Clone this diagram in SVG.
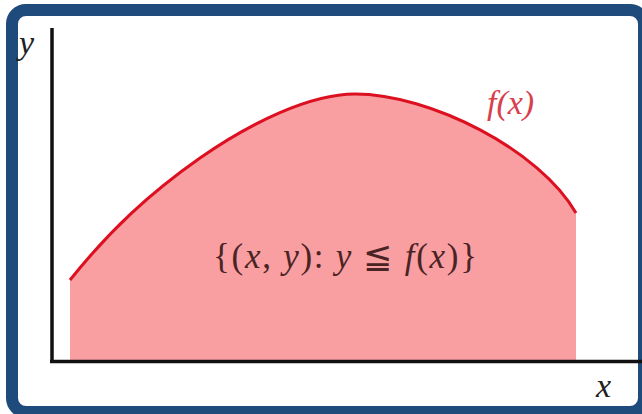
<svg xmlns="http://www.w3.org/2000/svg" width="642" height="414" viewBox="0 0 642 414">
<style>
.it{font-style:italic}
.axis{stroke:#111;stroke-width:3.5;fill:none}
</style>
<rect x="0" y="0" width="642" height="414" fill="#ffffff"/>
<rect x="12" y="10" width="632" height="402" rx="14" ry="14" fill="none" stroke="#1f4a7c" stroke-width="12"/>
<g id="region">
<path d="M70,280 C110,230 150,193 200,158 C250,123 310,94 355,94 C430,94 540,150 576,213 L576,360 L70,360 Z" fill="#f99ea1"/>
</g>
<g id="curve">
<path d="M70,280 C110,230 150,193 200,158 C250,123 310,94 355,94 C430,94 540,150 576,213" fill="none" stroke="#dc1020" stroke-width="3"/>
</g>
<g id="connectors">
<line class="axis" x1="52" y1="28" x2="52" y2="362"/>
<line class="axis" x1="50" y1="361.5" x2="642" y2="361.5"/>
</g>
<g id="labels" font-family="Liberation Serif, DejaVu Serif, serif">
<text class="it" x="19" y="54" font-size="34" fill="#222">y</text>
<text class="it" x="596" y="397" font-size="34" fill="#222">x</text>
<text class="it" x="487" y="114" font-size="34" fill="#d8404c">f(x)</text>
<text x="213" y="268" font-size="35" fill="#4a2424" textLength="264" lengthAdjust="spacing">{(<tspan class="it">x</tspan>, <tspan class="it">y</tspan>): <tspan class="it">y</tspan> ≦ <tspan class="it">f</tspan>(<tspan class="it">x</tspan>)}</text>
</g>
</svg>
